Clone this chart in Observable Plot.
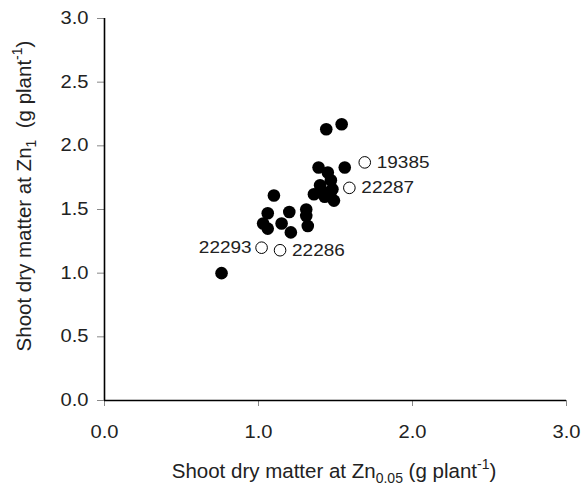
<!DOCTYPE html>
<html>
<head>
<meta charset="utf-8">
<script src="https://cdn.jsdelivr.net/npm/d3@7"></script>
<script src="https://cdn.jsdelivr.net/npm/@observablehq/plot@0.6"></script>
<style>
  html, body { margin: 0; padding: 0; background: #fff; }
  #chart svg { display: block; }
</style>
</head>
<body>
<div id="chart"></div>
<script>
// Filled points (genotypes)
const filledX = [0.76, 1.03, 1.06, 1.06, 1.10, 1.15, 1.21, 1.20, 1.31, 1.31, 1.32, 1.36, 1.41, 1.43, 1.47, 1.48, 1.49, 1.47, 1.40, 1.45, 1.39, 1.56, 1.44, 1.54];
const filledY = [1.00, 1.39, 1.35, 1.47, 1.61, 1.39, 1.32, 1.48, 1.50, 1.45, 1.37, 1.62, 1.65, 1.60, 1.64, 1.66, 1.57, 1.73, 1.69, 1.79, 1.83, 1.83, 2.13, 2.17];
// Open points (labelled genotypes)
const openX = [1.69, 1.59, 1.02, 1.14];
const openY = [1.87, 1.67, 1.20, 1.18];
const openLabels = ["19385", "22287", "22293", "22286"];

const xTicks = [0, 1, 2, 3];
const yTicks = [0, 0.5, 1, 1.5, 2, 2.5, 3];

const filled = filledX.map((x, i) => ({x, y: filledY[i]}));
const open = openX.map((x, i) => ({x, y: openY[i], label: openLabels[i]}));
const rightLabels = open.filter(d => d.label !== "22293");
const leftLabels = open.filter(d => d.label === "22293");

const FONT = "'Liberation Sans', Arial, sans-serif";
const STRETCH = 1.15;

const plot = Plot.plot({
  width: 583,
  height: 489,
  marginLeft: 104,
  marginRight: 17,
  marginTop: 18,
  marginBottom: 89,
  style: {fontFamily: FONT, fontSize: "17.5px", color: "#222", background: "#fff"},
  x: {domain: [0, 3]},
  y: {domain: [0, 3]},
  marks: [
    Plot.axisX({ticks: xTicks, tickFormat: d3.format(".1f"), tickSize: 6, tickPadding: 19, stroke: "#888", label: null, fontSize: 17.5, fill: "#222"}),
    Plot.axisY({ticks: yTicks, tickFormat: d3.format(".1f"), tickSize: 7, tickPadding: 9, stroke: "#888", label: null, fontSize: 17.5, fill: "#222"}),
    Plot.ruleY([0], {stroke: "#000", strokeWidth: 1.6}),
    Plot.ruleX([0], {stroke: "#000", strokeWidth: 1.6}),
    Plot.dot(filled, {x: "x", y: "y", r: 6.3, fill: "#000", stroke: "none"}),
    Plot.dot(open, {x: "x", y: "y", r: 5.8, fill: "#fff", stroke: "#000", strokeWidth: 1}),
    Plot.text(rightLabels, {x: "x", y: "y", text: "label", dx: 12, textAnchor: "start", fontSize: 16.5, fill: "#222"}),
    Plot.text(leftLabels, {x: "x", y: "y", text: "label", dx: -10, textAnchor: "end", fontSize: 16.5, fill: "#222"})
  ]
});

const svg = d3.select(plot);
// Widen glyphs horizontally to match the reference typeface proportions
svg.selectAll("text").each(function () {
  const t = this.getAttribute("transform") || "";
  this.setAttribute("transform", (t + ` scale(${STRETCH},1)`).trim());
});

// Axis titles with subscripts/superscripts
const xl = svg.append("text")
  .attr("transform", "translate(334,478)")
  .attr("text-anchor", "middle")
  .attr("font-family", FONT).attr("font-size", 20.5).attr("fill", "#222");
xl.append("tspan").text("Shoot dry matter at Zn");
xl.append("tspan").attr("font-size", 14).attr("dy", 5).text("0.05");
xl.append("tspan").attr("dy", -5).text(" (g plant");
xl.append("tspan").attr("font-size", 14).attr("dy", -9).text("-1");
xl.append("tspan").attr("dy", 9).text(")");

const yl = svg.append("text")
  .attr("transform", "translate(31,196) rotate(-90)")
  .attr("text-anchor", "middle")
  .attr("font-family", FONT).attr("font-size", 20.5).attr("fill", "#222");
yl.append("tspan").text("Shoot dry matter at Zn");
yl.append("tspan").attr("font-size", 14).attr("dy", 5).text("1");
yl.append("tspan").attr("dy", -5).text("  (g plant");
yl.append("tspan").attr("font-size", 14).attr("dy", -9).text("-1");
yl.append("tspan").attr("dy", 9).text(")");

document.getElementById("chart").appendChild(plot);
</script>
</body>
</html>
